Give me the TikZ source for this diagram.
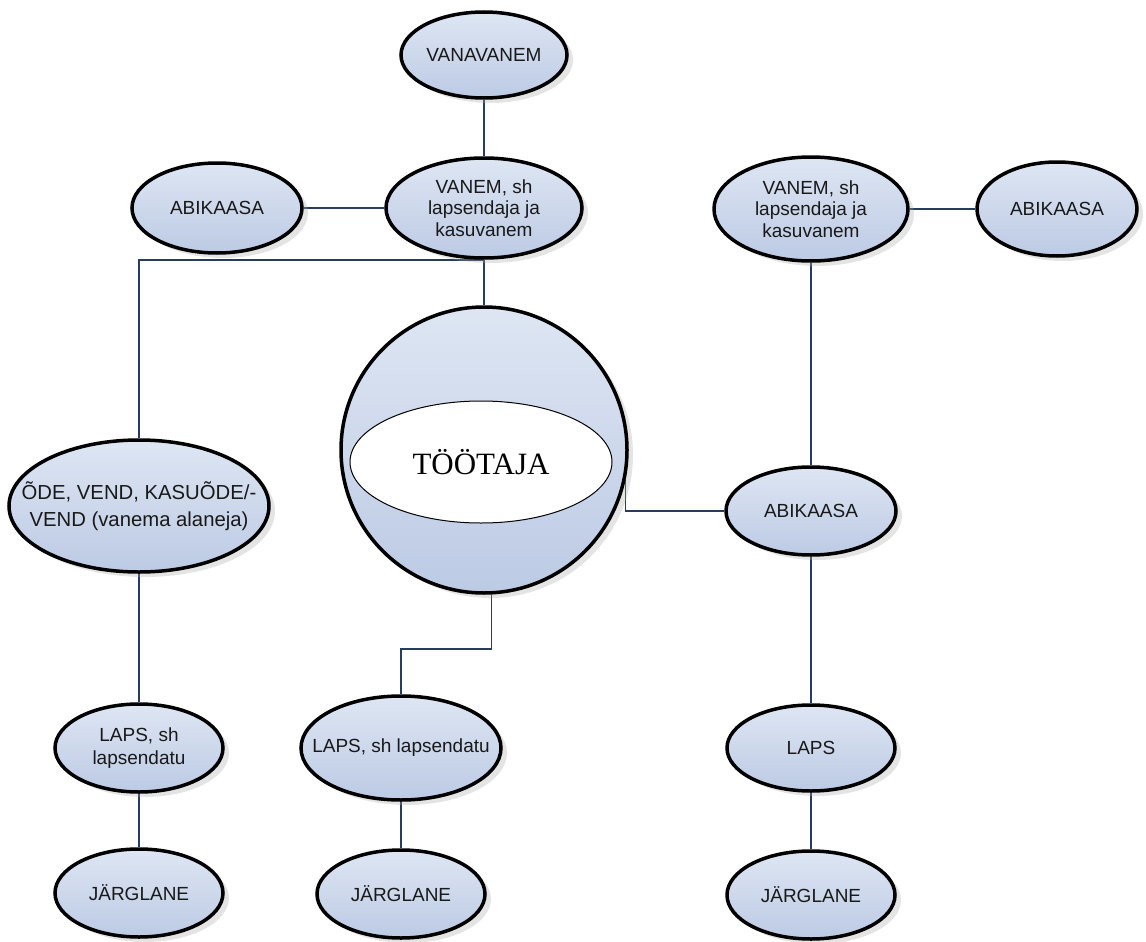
\documentclass[tikz,border=0pt]{standalone}
\usepackage{fontspec}
\setmainfont{Liberation Sans}
\newfontfamily\tserif{Liberation Serif}
\usetikzlibrary{shapes.geometric,shadows}
\pgfdeclarelayer{bg}
\pgfsetlayers{bg,main}
\definecolor{lnk}{RGB}{40,60,95}
\definecolor{ftop}{RGB}{222,230,243}
\definecolor{fbot}{RGB}{188,202,228}
\tikzset{
  bub/.style={ellipse, draw=black, line width=3.5pt, top color=ftop, bottom color=fbot,
    inner sep=0pt, drop shadow={shadow xshift=6pt, shadow yshift=-5pt, fill=gray!70, opacity=0.3}},
  lbl/.style={font=\fontsize{19}{21.5}\selectfont, align=center, text=black!90},
  lblb/.style={font=\fontsize{20.3}{27}\selectfont, align=center, text=black!90},
  conn/.style={draw=lnk, line width=1.8pt},
}
\begin{document}
\begin{tikzpicture}[x=1pt,y=-1pt]
\useasboundingbox (0,0) rectangle (1146,942);
% top
\node[bub, minimum width=166pt, minimum height=86pt, label={[lbl]center:VANAVANEM}] (vanavanem) at (484,55) {};
\node[bub, minimum width=196pt, minimum height=100pt, label={[lbl]center:VANEM, sh\\lapsendaja ja\\kasuvanem}] (vanem1) at (484,208) {};
\node[bub, minimum width=170pt, minimum height=90pt, label={[lbl]center:ABIKAASA}] (abik1) at (217,208) {};
\node[bub, minimum width=194pt, minimum height=104pt, label={[lbl]center:VANEM, sh\\lapsendaja ja\\kasuvanem}] (vanem2) at (811,209) {};
\node[bub, minimum width=160pt, minimum height=94pt, label={[lbl]center:ABIKAASA}] (abik2) at (1057,209) {};
% centre
\node[bub, circle, minimum size=286pt] (tootaja) at (484,450) {};
\node[ellipse, draw=black, fill=white, line width=1pt, minimum width=262pt, minimum height=122pt,
  inner sep=0pt, font=\tserif\fontsize{31}{36}\selectfont] (inner) at (481,462) {TÖÖTAJA};
\node[bub, minimum width=260pt, minimum height=132pt, label={[lblb]center:ÕDE, VEND, KASUÕDE/-\\VEND (vanema alaneja)}] (ode) at (139,506) {};
\node[bub, minimum width=170pt, minimum height=88pt, label={[lbl]center:ABIKAASA}] (abik3) at (811,511) {};
% bottom
\node[bub, minimum width=168pt, minimum height=88pt, label={[lbl, font=\fontsize{19}{23.3}\selectfont]center:LAPS, sh\\lapsendatu}] (laps1) at (139,748) {};
\node[bub, minimum width=200pt, minimum height=104pt, label={[lbl]center:LAPS, sh lapsendatu}] (laps2) at (401,748) {};
\node[bub, minimum width=168pt, minimum height=86pt, label={[lbl]center:LAPS}] (laps3) at (811,748) {};
\node[bub, minimum width=168pt, minimum height=88pt, label={[lbl]center:JÄRGLANE}] (jarg1) at (139,893) {};
\node[bub, minimum width=168pt, minimum height=88pt, label={[lbl]center:JÄRGLANE}] (jarg2) at (401,894) {};
\node[bub, minimum width=168pt, minimum height=88pt, label={[lbl]center:JÄRGLANE}] (jarg3) at (811,895) {};
\coordinate (j) at (401,649);
\begin{pgfonlayer}{bg}
\draw[conn] (vanavanem.south) -- (vanem1.north);
\draw[conn] (abik1.east) -- (vanem1.west);
\draw[conn] (vanem1.south) -- (tootaja.north);
\draw[conn] (vanem1.south) -| (ode.north);
\draw[conn] (ode.south) -- (laps1.north);
\draw[conn] (laps1.south) -- (jarg1.north);
\draw[conn] (tootaja.-87) |- (j) -- (laps2.north);
\draw[conn] (laps2.south) -- (jarg2.north);
\draw[conn] (vanem2.east) -- (abik2.west);
\draw[conn] (vanem2.south) -- (abik3.north);
\draw[conn] (abik3.west) -| (tootaja.-12);
\draw[conn] (abik3.south) -- (laps3.north);
\draw[conn] (laps3.south) -- (jarg3.north);
\end{pgfonlayer}
\end{tikzpicture}
\end{document}
